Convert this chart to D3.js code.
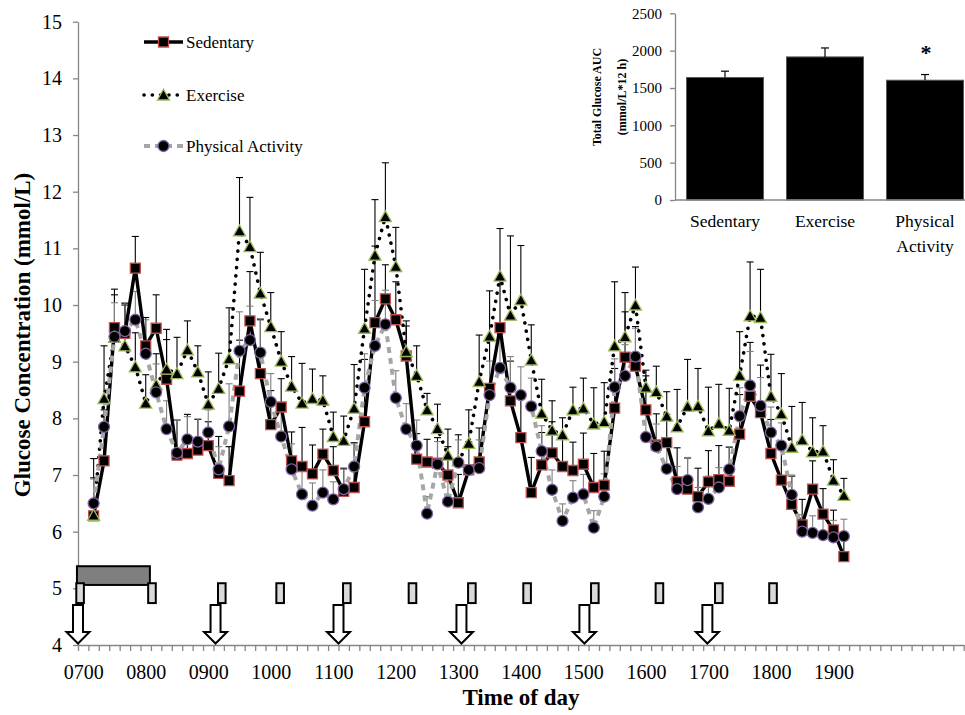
<!DOCTYPE html>
<html><head><meta charset="utf-8">
<script src="https://cdn.jsdelivr.net/npm/d3@7"></script>
<style>
body{margin:0;background:#fff}
svg{display:block}
text{font-family:"Liberation Serif","Times New Roman",serif;fill:#000}
</style>
</head><body>
<svg id="chart" width="965" height="715"></svg>
<script>
// ---- data ----
// samples every 10 min from 0710 (index 0) to 1910 (index 72)
const sedentary = [6.28,7.25,9.60,9.50,10.65,9.28,9.59,8.69,7.35,7.38,7.44,7.52,7.03,6.90,8.48,9.72,8.79,7.89,8.20,7.25,
  7.15,7.02,7.37,7.08,6.71,6.78,7.94,9.69,10.11,9.74,9.10,7.28,7.23,7.21,7.00,6.51,7.09,7.23,8.53,9.60,
  8.31,7.66,6.69,7.18,7.39,7.15,7.08,7.19,6.78,6.82,8.18,9.08,8.92,8.15,7.53,7.57,6.88,6.75,6.62,6.88,
  6.92,6.89,7.72,8.39,8.10,7.38,6.91,6.48,6.12,6.75,6.31,6.03,5.56];
const sedentarySE = [0.67,0.90,0.68,0.50,0.56,0.50,0.59,0.70,0.62,0.69,0.54,0.42,0.65,0.60,0.90,0.87,0.95,0.60,0.50,0.51,
  0.69,0.51,0.44,0.42,0.41,0.79,1.10,1.35,0.60,0.67,0.53,0.45,0.40,0.45,0.50,0.50,0.50,0.60,0.90,0.90,
  0.70,0.70,0.62,0.57,0.55,0.50,0.50,0.55,0.60,0.60,0.70,0.80,0.70,0.60,0.55,0.50,0.60,0.55,0.50,0.55,
  0.60,0.60,0.70,0.95,0.84,0.60,0.55,0.50,0.45,0.50,0.45,0.35,0.30];
const exercise = [6.29,8.35,9.43,9.28,8.91,8.27,8.59,8.87,8.79,9.21,8.82,8.25,8.53,9.05,11.31,11.03,10.21,9.62,9.01,8.57,
  8.27,8.35,8.32,7.68,7.61,8.18,9.59,10.88,11.56,10.68,9.18,8.76,8.15,7.82,7.35,7.25,7.56,8.65,9.45,10.51,
  9.82,10.09,9.03,8.09,7.79,7.71,8.15,8.18,7.90,7.94,9.28,9.44,10.00,8.55,8.47,8.04,7.85,8.21,8.22,7.78,
  7.91,7.79,8.76,9.81,9.78,8.39,8.08,7.49,7.62,7.41,7.42,6.91,6.64];
const exerciseSE = [1.00,0.93,0.75,0.75,0.60,0.50,0.55,0.70,0.64,0.51,0.46,0.57,0.62,0.90,0.94,0.87,0.72,0.60,0.52,0.52,
  0.70,0.52,0.43,0.43,0.43,0.77,1.04,0.98,0.95,0.69,0.54,0.52,0.29,0.43,0.46,0.46,0.59,0.82,0.80,0.84,
  1.40,0.96,0.62,0.60,0.52,0.30,0.40,0.53,0.64,0.69,1.13,0.78,0.67,0.30,0.45,0.43,0.66,0.83,0.66,0.77,
  0.69,0.74,0.77,0.95,0.85,0.74,0.71,0.72,0.66,0.60,0.45,0.36,0.30];
const physicalActivity = [6.50,7.85,9.44,9.54,9.74,9.14,8.46,7.81,7.39,7.63,7.59,7.75,7.10,7.86,9.19,9.38,9.16,8.29,7.68,7.10,
  6.66,6.46,6.69,6.57,6.75,7.15,8.54,9.28,9.66,8.36,7.81,7.52,6.32,7.19,6.53,7.22,7.09,7.12,8.41,8.89,
  8.54,8.41,8.21,7.42,6.74,6.19,6.60,6.66,6.07,6.62,8.55,8.75,9.09,7.67,7.50,7.11,6.75,6.91,6.43,6.58,
  6.78,7.10,8.04,8.58,8.22,7.75,7.52,6.65,6.00,5.98,5.94,5.90,5.92];
const physicalActivitySE = [0.43,0.50,0.60,0.50,0.50,0.60,0.50,0.50,0.58,0.40,0.40,0.40,0.40,0.75,0.69,0.60,0.60,0.50,0.50,0.45,
  0.45,0.40,0.40,0.31,0.35,0.40,0.60,0.80,0.60,0.48,0.45,0.45,0.30,0.40,0.35,0.40,0.40,0.50,0.60,0.60,
  0.55,0.50,0.50,0.45,0.35,0.30,0.30,0.35,0.30,0.40,0.50,0.55,0.50,0.40,0.40,0.40,0.40,0.40,0.35,0.40,
  0.35,0.40,0.50,0.60,0.50,0.45,0.40,0.35,0.30,0.30,0.30,0.30,0.30];
const sampleMinutes = d3.range(sedentary.length).map(i => (i + 1) * 10); // minutes after 0700
const hourLabels = ["0700","0800","0900","1000","1100","1200","1300","1400","1500","1600","1700","1800","1900"];
const yTicks = [4,5,6,7,8,9,10,11,12,13,14,15];
// annotations (minutes after 0700)
const exerciseBout = [-6, 64];
const walkBreaks = [-3, 66, 133, 189, 253, 316, 373, 426, 491, 553, 610, 662];
const meals = [-5, 127, 245, 363, 481, 599];
// inset
const aucGroups = ["Sedentary","Exercise","Physical Activity"];
const aucValues = [1640, 1916, 1604];
const aucSE = [85, 120, 76];
const aucTicks = [0,500,1000,1500,2000,2500];

// ---- drawing ----
const svg = d3.select("#chart");
const axisGray = "#868686";
const x = d3.scaleLinear().domain([-5, 845]).range([78, 963.7]);
const y = d3.scaleLinear().domain([4, 15]).range([645, 21.7]);

// Y axis
const yAxis = svg.append("g").attr("transform","translate(78,0)")
  .call(d3.axisLeft(y).tickValues(yTicks).tickSize(5).tickSizeOuter(0).tickPadding(11).tickFormat(d3.format("d")));
yAxis.select(".domain").attr("stroke", axisGray).attr("stroke-width",1.3);
yAxis.selectAll(".tick line").attr("stroke", axisGray).attr("stroke-width",1.3);
yAxis.selectAll(".tick text").attr("font-size",20).attr("font-family","Liberation Serif, serif");

// X axis: tick marks at 10-min boundaries, labels at hours
const tickMarks = d3.range(-5, 850, 10);
const xAxisMarks = svg.append("g").attr("transform","translate(0,645)")
  .call(d3.axisBottom(x).tickValues(tickMarks).tickSize(6).tickSizeOuter(0).tickFormat(""));
xAxisMarks.select(".domain").attr("stroke", axisGray).attr("stroke-width",1.6);
xAxisMarks.selectAll(".tick line").attr("stroke", axisGray).attr("stroke-width",1.3);
const xAxisLabels = svg.append("g").attr("transform","translate(0,645)")
  .call(d3.axisBottom(x).tickValues(hourLabels.map((d,i)=>i*60)).tickSize(0).tickPadding(20)
    .tickFormat((d,i)=>hourLabels[i]));
xAxisLabels.select(".domain").remove();
xAxisLabels.selectAll(".tick text").attr("font-size",20).attr("font-family","Liberation Serif, serif");

// axis titles
svg.append("text").attr("x",521).attr("y",705).attr("text-anchor","middle")
  .attr("font-size",23).attr("font-weight","bold").text("Time of day");
svg.append("text").attr("transform","translate(30,335) rotate(-90)").attr("text-anchor","middle")
  .attr("font-size",23).attr("font-weight","bold").text("Glucose Concentration (mmol/L)");

// annotations
const ann = svg.append("g");
ann.append("rect").attr("x", x(exerciseBout[0])).attr("y", y(5.39))
  .attr("width", x(exerciseBout[1]) - x(exerciseBout[0])).attr("height", y(5.06) - y(5.39))
  .attr("fill","#7f7f7f").attr("stroke","#000").attr("stroke-width",2);
ann.selectAll(".wb").data(walkBreaks).join("rect").attr("class","wb")
  .attr("x", d => x(d) - 3.8).attr("y", y(5.09)).attr("width", 7.6).attr("height", y(4.74) - y(5.09))
  .attr("fill","#d9d9d9").attr("stroke","#000").attr("stroke-width",2);
ann.selectAll(".meal").data(meals).join("path").attr("class","meal")
  .attr("d", d => {
    const cx = x(d), top = 605, neck = 632, tip = 643.5;
    return `M${cx-5},${top}L${cx+5},${top}L${cx+5},${neck}L${cx+11.5},${neck}L${cx},${tip}L${cx-11.5},${neck}L${cx-5},${neck}Z`;
  })
  .attr("fill","#fff").attr("stroke","#000").attr("stroke-width",2).attr("stroke-linejoin","miter");

// series
const series = [
  {name:"Sedentary", vals:sedentary, se:sedentarySE, line:{stroke:"#000", width:3.4, dash:null, cap:"butt"},
   errColor:"#000", marker:"square", mstroke:"#c0504d"},
  {name:"Exercise", vals:exercise, se:exerciseSE, line:{stroke:"#000", width:3.6, dash:"0.1,8.2", cap:"round"},
   errColor:"#000", marker:"triangle", mstroke:"#9bbb59"},
  {name:"Physical Activity", vals:physicalActivity, se:physicalActivitySE, line:{stroke:"#a6a6a6", width:4, dash:"6,5", cap:"butt"},
   errColor:"#7f7f7f", marker:"circle", mstroke:"#8064a2"}
];
function markerPath(type){
  if(type==="square") return "M-5,-5H5V5H-5Z";
  if(type==="triangle") return "M0,-5.8L6,5L-6,5Z";
  return d3.symbol(d3.symbolCircle, Math.PI*5.5*5.5)();
}
const line = d3.line().x((d,i)=>x(sampleMinutes[i])).y(d=>y(d));
const errLayer = svg.append("g"), lineLayer = svg.append("g"), markLayer = svg.append("g");
series.forEach(s => {
  // error bars (plus only)
  const eb = errLayer.append("g").attr("stroke", s.errColor).attr("stroke-width",1.1);
  s.vals.forEach((v,i) => {
    const cx = x(sampleMinutes[i]), y0 = y(v), y1 = y(v + s.se[i]);
    eb.append("line").attr("x1",cx).attr("x2",cx).attr("y1",y0).attr("y2",y1);
    eb.append("line").attr("x1",cx-3.5).attr("x2",cx+3.5).attr("y1",y1).attr("y2",y1);
  });
  lineLayer.append("path").datum(s.vals).attr("d", line).attr("fill","none")
    .attr("stroke", s.line.stroke).attr("stroke-width", s.line.width)
    .attr("stroke-dasharray", s.line.dash).attr("stroke-linecap", s.line.cap).attr("stroke-linejoin","round");
  markLayer.append("g").selectAll("path").data(s.vals).join("path")
    .attr("transform",(d,i)=>`translate(${x(sampleMinutes[i])},${y(d)})`)
    .attr("d", markerPath(s.marker)).attr("fill","#000").attr("stroke", s.mstroke).attr("stroke-width",1.3);
});

// legend
const legY = [42, 95, 146];
series.forEach((s,i) => {
  const lg = svg.append("g").attr("transform",`translate(0,${legY[i]})`);
  lg.append("line").attr("x1",144).attr("x2",183).attr("y1",0).attr("y2",0)
    .attr("stroke", s.line.stroke).attr("stroke-width", s.line.width)
    .attr("stroke-dasharray", s.line.dash).attr("stroke-linecap", s.line.cap);
  lg.append("path").attr("transform","translate(163.5,0)").attr("d", markerPath(s.marker))
    .attr("fill","#000").attr("stroke", s.mstroke).attr("stroke-width",1.3);
  lg.append("text").attr("x",186).attr("y",6).attr("font-size",17).text(s.name);
});

// inset bar chart
const yI = d3.scaleLinear().domain([0,2500]).range([200,13.3]);
const xI = d3.scaleBand().domain(aucGroups).range([675,975]).paddingInner(0.23).paddingOuter(0.115);
const inset = svg.append("g");
inset.selectAll(".bar").data(aucValues).join("rect").attr("class","bar")
  .attr("x",(d,i)=>xI(aucGroups[i])).attr("width",xI.bandwidth())
  .attr("y",d=>yI(d)).attr("height",d=>yI(0)-yI(d))
  .attr("fill","#000").attr("stroke","#595959").attr("stroke-width",1);
aucValues.forEach((v,i)=>{
  const cx = xI(aucGroups[i]) + xI.bandwidth()/2;
  inset.append("line").attr("x1",cx).attr("x2",cx).attr("y1",yI(v)).attr("y2",yI(v+aucSE[i])).attr("stroke","#000").attr("stroke-width",1.2);
  inset.append("line").attr("x1",cx-4).attr("x2",cx+4).attr("y1",yI(v+aucSE[i])).attr("y2",yI(v+aucSE[i])).attr("stroke","#000").attr("stroke-width",1.2);
});
const yIAxis = inset.append("g").attr("transform","translate(675,0)")
  .call(d3.axisLeft(yI).tickValues(aucTicks).tickSize(5).tickSizeOuter(0).tickPadding(8).tickFormat(d3.format("d")));
yIAxis.select(".domain").attr("stroke",axisGray).attr("stroke-width",1.3);
yIAxis.selectAll(".tick line").attr("stroke",axisGray).attr("stroke-width",1.3);
yIAxis.selectAll(".tick text").attr("font-size",15).attr("font-family","Liberation Serif, serif");
inset.append("line").attr("x1",675).attr("x2",965).attr("y1",200).attr("y2",200).attr("stroke",axisGray).attr("stroke-width",1.6);
const catLines = [["Sedentary"],["Exercise"],["Physical","Activity"]];
catLines.forEach((lines,i)=>{
  const cx = xI(aucGroups[i]) + xI.bandwidth()/2;
  lines.forEach((t,j)=>{
    inset.append("text").attr("x",cx).attr("y",227+j*24.5).attr("text-anchor","middle").attr("font-size",17.5).text(t);
  });
});
inset.append("text").attr("x", xI(aucGroups[2]) + xI.bandwidth()/2 + 1).attr("y",60).attr("text-anchor","middle")
  .attr("font-size",22).attr("font-weight","bold").text("*");
inset.append("text").attr("transform","translate(601,97) rotate(-90)").attr("text-anchor","middle")
  .attr("font-size",12).attr("font-weight","bold").text("Total Glucose AUC");
inset.append("text").attr("transform","translate(626,97) rotate(-90)").attr("text-anchor","middle")
  .attr("font-size",12).attr("font-weight","bold").text("(mmol/L*12 h)");
</script>
</body></html>
